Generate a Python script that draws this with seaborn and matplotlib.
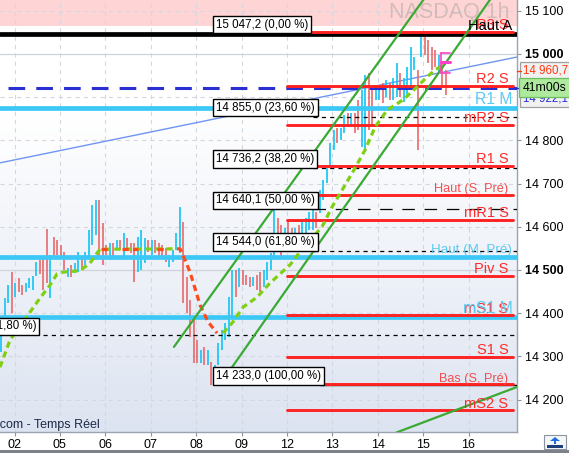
import numpy as np
import pandas as pd
import matplotlib
matplotlib.use("Agg")
import matplotlib.pyplot as plt
import matplotlib.transforms as mtransforms
import matplotlib.colors as mcolors
from matplotlib.patches import Rectangle, Polygon
import seaborn as sns

# ---------------- data ----------------
day_labels = ["02", "05", "06", "07", "08", "09", "12", "13", "14", "15", "16"]
bars_per_day = 12.97
first_day_pos = 3.86          # bar index where day "02" starts

bar_high = [14354, 14435, 14465, 14495, 14470, 14481, 14465, 14470, 14481, 14486,
            14518, 14523, 14530, 14595, 14535, 14576, 14569, 14558, 14542, 14505,
            14512, 14516, 14542, 14528, 14542, 14593, 14650, 14662, 14662, 14609,
            14558, 14562, 14562, 14569, 14569, 14586, 14574, 14562, 14562, 14576,
            14593, 14574, 14569, 14569, 14569, 14562, 14558, 14551, 14535, 14546,
            14586, 14646, 14611, 14484, 14430, 14389, 14338, 14315, 14322, 14315,
            14287, 14280, 14331, 14361, 14377, 14437, 14500, 14500, 14505, 14500,
            14488, 14484, 14484, 14488, 14495, 14500, 14518, 14539, 14650, 14620,
            14604, 14597, 14611, 14597, 14597, 14604, 14616, 14620, 14634, 14639,
            14634, 14685, 14708, 14738, 14794, 14824, 14829, 14829, 14859, 14863,
            14863, 14863, 14894, 14917, 14951, 14956, 14924, 14928, 14924, 14933,
            14940, 14933, 14944, 14979, 14956, 14944, 14970, 15016, 14993, 14963,
            15047, 15039, 15032, 15016, 15009, 14998, 14979, 14963]
bar_low = [14310, 14389, 14424, 14400, 14437, 14449, 14442, 14449, 14458, 14454,
           14486, 14491, 14454, 14470, 14435, 14528, 14535, 14528, 14500, 14484,
           14484, 14493, 14495, 14500, 14512, 14530, 14558, 14581, 14530, 14512,
           14535, 14523, 14530, 14546, 14546, 14530, 14546, 14539, 14472, 14495,
           14500, 14516, 14542, 14535, 14539, 14530, 14530, 14518, 14507, 14518,
           14546, 14539, 14424, 14400, 14345, 14285, 14285, 14285, 14280, 14280,
           14233, 14238, 14280, 14315, 14338, 14345, 14391, 14437, 14461, 14465,
           14465, 14461, 14463, 14454, 14449, 14461, 14477, 14500, 14530, 14546,
           14528, 14546, 14569, 14576, 14576, 14576, 14586, 14586, 14593, 14593,
           14597, 14632, 14662, 14701, 14738, 14778, 14794, 14801, 14817, 14831,
           14836, 14817, 14824, 14785, 14773, 14824, 14831, 14894, 14894, 14887,
           14900, 14894, 14894, 14900, 14900, 14889, 14900, 14924, 14963, 14778,
           14993, 14998, 14979, 14963, 14970, 14958, 14924, 14905]
bar_dir = ("UUUDUDDUUU" "UDDDUDDDDU" "DUUDUUUUDD" "DUDUDUDDDU" "UUDUDDDDUU"
           "UUDDDDDUDU" "DUUUUUUDUD" "DDUDDUUUUD" "DUDDUDUUUU" "DUUUUUDUUD"
           "UDDUUDDUUD" "UDUUDUUUUD" "UDDDDUDD")

fib_high = 15047.2
fib_low = 14233.0
fib_pcts = [0.0, 23.6, 38.2, 50.0, 61.8, 100.0]
fib_start = 60.6
ext_level = 14348.5
ext_label = "14 348,5 (61,80 %)"

piv_S_names = ["R3 S", "R2 S", "mR2 S", "R1 S", "Haut (S, Pré)", "mR1 S", "Piv S",
               "mS1 S", "S1 S", "Bas (S, Pré)", "mS2 S"]
piv_S_vals = [15052, 14926, 14836, 14741, 14674, 14616, 14487, 14395, 14299, 14235, 14175]
piv_M_names = ["R1 M", "Haut (M, Pré)", "mS1 M"]
piv_M_vals = [14875, 14530, 14391]
haut_A = 15047.2
prev_close = 14922.1
last_price = 14960.7
countdown = "41m00s"

st_g1_x = [-0.29, 2.57, 7.71, 11.14, 14.0, 16.0, 17.71, 21.71, 23.14, 25.43, 27.43, 28.29, 50.29]
st_g1_y = [14275, 14338, 14396, 14435, 14465, 14491, 14495, 14498, 14502, 14516, 14539, 14548, 14549]
st_r_x = [50.29, 51.14, 52.57, 54.0, 56.86, 59.14, 61.71]
st_r_y = [14549, 14549, 14523, 14495, 14419, 14380, 14354]
st_g2_x = [63.43, 66.29, 69.14, 73.14, 76.86, 82.57, 85.43, 91.71, 94.57, 97.43, 100.29,
           104.0, 106.86, 110.29, 114.86, 118.86, 121.71, 124.0, 126.29]
st_g2_y = [14354, 14380, 14414, 14437, 14470, 14512, 14542, 14600, 14646, 14685, 14724,
           14778, 14831, 14870, 14894, 14924, 14947, 14963, 14975]
st_red_flat = [(28.5, 31.0), (34.5, 39.0), (44.5, 46.5)]
st_flat_level = 14549

chan_upper_x, chan_upper_y = [49.4, 121.5], [14322, 15135]
chan_lower_x, chan_lower_y = [63.4, 140.5], [14245, 15135]
support_x, support_y = [113.0, 148.0], [14124, 14231]
blue_x, blue_y = [-0.3, 147.4], [14748, 14993]

proj_x = [125.7, 128.3]
proj_levels = [15002, 14981, 14956]

y_ticks = [14200, 14300, 14400, 14500, 14600, 14700, 14800, 15000, 15100]
bold_ticks = [14500, 15000]

n_bars = min(len(bar_high), len(bar_low), len(bar_dir))

# ---------------- style ----------------
sns.set_style("white")
plt.rcParams['font.family'] = ['Liberation Sans', 'DejaVu Sans']
plt.rcParams['lines.scale_dashes'] = False

W, H = 569, 453
fig = plt.figure(figsize=(W / 100, H / 100), dpi=100)
fig.patch.set_facecolor("white")
ax = fig.add_axes([0, 21 / H, 517 / W, 432 / H])
XMIN, XMAX, YMIN, YMAX = -0.29, 147.4, 14125, 15125
ax.set_xlim(XMIN, XMAX)
ax.set_ylim(YMIN, YMAX)

# background gradient
grad = np.linspace(0, 1, 256)[:, None]
top = np.array(mcolors.to_rgb("#ffffff"))
bot = np.array(mcolors.to_rgb("#dde4f1"))
t = np.clip(grad / 0.75, 0, 1)
img = bot[None, None, :] * (1 - t)[..., None] + top[None, None, :] * t[..., None]
img = np.repeat(img, 2, axis=1)
ax.imshow(img, extent=[XMIN, XMAX, YMIN, YMAX], origin="lower", aspect="auto", zorder=0)
bx = np.array(blue_x); by = np.array(blue_y)
ax.fill_between(bx, by, YMAX, color="white", alpha=0.55, zorder=0.3, lw=0)
ax.axhspan(15065, YMAX, color="#ffd4d4", zorder=0.5, lw=0)

# grid
day_pos = [first_day_pos + bars_per_day * k for k in range(len(day_labels))]
for xp in day_pos:
    ax.axvline(xp, color="#d2d7e0", lw=0.8, dashes=(3, 3), zorder=0.8)
for yv in [14200, 14300, 14400, 14600, 14700, 14800, 14900, 15100]:
    ax.axhline(yv, color="#d2d7e0", lw=0.8, dashes=(3, 3), zorder=0.8)
for yv in bold_ticks:
    ax.axhline(yv, color="#cfd3da", lw=0.9, zorder=0.8)

# watermark
ax.text(128.1, 15097, "NASDAQ 1h", fontsize=15.5, color="#b9a9a9", alpha=0.6,
        ha="center", va="center", zorder=0.9)

# blue trend line
sns.lineplot(x=blue_x, y=blue_y, ax=ax, color="#6f95f2", lw=1.0, zorder=1.5)

# full width cyan lines and black Haut A line
for v in piv_M_vals:
    ax.axhline(v, color="#3cc8f6", lw=3.4, zorder=3)
ax.axhline(haut_A, color="black", lw=3.4, zorder=3)
ax.plot([2.0, XMAX], [prev_close, prev_close], color="#2b2fd2", lw=2.2, dashes=(12, 8), zorder=3)

# pivot S lines (current week)
s_start = day_pos[6] - 0.1
s_end = XMAX - 1.2
for v in piv_S_vals:
    ax.plot([s_start, s_end], [v, v], color="#ff2222", lw=2.1, zorder=3.2)

# bars
df = pd.DataFrame({"i": np.arange(n_bars), "hi": bar_high[:n_bars], "lo": bar_low[:n_bars],
                   "dir": list(bar_dir[:n_bars])})
x_bar = df["i"].to_numpy() + 0.0
colors = np.where(df["dir"] == "U", "#12c3f4", "#e8696b")
ax.vlines(x_bar, df["lo"], df["hi"], colors=colors, lw=1.2, zorder=2.5)

# fib levels
fib_levels = [fib_high - p / 100 * (fib_high - fib_low) for p in fib_pcts]
box_end = fib_start + 28.6
for p, lv in zip(fib_pcts, fib_levels):
    txt = f"{lv:,.1f}".replace(",", " ").replace(".", ",") + " (" + f"{p:.2f}".replace(".", ",") + " %)"
    ax.annotate(txt, xy=(fib_start, lv), xytext=(2.2, 2.2), textcoords="offset points",
                ha="left", va="bottom", fontsize=8.3, color="black", zorder=6,
                bbox=dict(boxstyle="square,pad=0.25", fc="white", ec="black", lw=1.0))
    if p in (23.6, 38.2, 61.8):
        ax.plot([box_end, XMAX], [lv, lv], color="black", lw=0.9, dashes=(3, 3), zorder=3.1)
    elif p == 50.0:
        ax.plot([box_end, XMAX], [lv, lv], color="black", lw=0.9, dashes=(9, 7), zorder=3.1)
    elif p == 100.0:
        ax.plot([box_end + 2, XMAX], [lv, lv], color="black", lw=1.0, zorder=3.1)
ext = ax.annotate(ext_label, xy=(10.9, ext_level), xytext=(-2.2, 2.2), textcoords="offset points",
                  ha="right", va="bottom", fontsize=8.3, color="black", zorder=6,
                  bbox=dict(boxstyle="square,pad=0.25", fc="white", ec="black", lw=1.0))
ext.set_clip_on(True)
ax.plot([12.0, XMAX], [ext_level, ext_level], color="black", lw=0.9, dashes=(3, 3), zorder=3.1)

# supertrend
for xs, ys, col in [(st_g1_x, st_g1_y, "#7fcf12"), (st_r_x, st_r_y, "#ff4a1c"),
                    (st_g2_x, st_g2_y, "#7fcf12")]:
    sns.lineplot(x=xs, y=ys, ax=ax, color=col, lw=2.3, zorder=4, sort=False, estimator=None)
    ax.lines[-1].set_dashes((4.5, 3))
for a, b in st_red_flat:
    ax.plot([a, b], [st_flat_level, st_flat_level], color="#ff4a1c", lw=2.3, dashes=(4.5, 3), zorder=4.1)

# channel lines
for xs, ys in [(chan_upper_x, chan_upper_y), (chan_lower_x, chan_lower_y), (support_x, support_y)]:
    sns.lineplot(x=xs, y=ys, ax=ax, color="#3aaa35", lw=1.6, zorder=5)

# projection marks
ax.plot([proj_x[0], proj_x[0]], [proj_levels[0], proj_levels[-1]], color="#ff40c8", lw=1.2, zorder=5.5)
for k, lv in enumerate(proj_levels):
    ax.plot(proj_x, [lv, lv], color="#ff40c8", lw=2.2 if k == 1 else 1.2, zorder=5.5)

# pivot labels
lab_x_S = XMAX - 2.45
lab_x_M = XMAX - 1.35
for n, v in zip(piv_S_names, piv_S_vals):
    fs = 9.2 if "(" in n else 10.5
    col = "#f05050" if "(" in n else "#ff2a2a"
    ax.annotate(n, xy=(lab_x_S, v), xytext=(0, 2.0), textcoords="offset points",
                ha="right", va="baseline", fontsize=fs, color=col, zorder=7)
for n, v in zip(piv_M_names, piv_M_vals):
    fs = 9.6 if "(" in n else 11.3
    ax.annotate(n, xy=(lab_x_M, v), xytext=(0, 3.0), textcoords="offset points",
                ha="right", va="baseline", fontsize=fs, color="#5ccaf2", zorder=7)
ax.annotate("Haut A", xy=(lab_x_M, haut_A), xytext=(0, 2.5), textcoords="offset points",
            ha="right", va="baseline", fontsize=10.5, color="black", zorder=7.5)

# source text
ax.text(28.3, 14142, "ProRealTime.com - Temps Réel", ha="right", va="center",
        fontsize=9, color="#1d2b4a", zorder=7, clip_on=True)

# axes styling
for s in ["top", "left"]:
    ax.spines[s].set_visible(False)
for s in ["right", "bottom"]:
    ax.spines[s].set_color("#9aa3ae")
    ax.spines[s].set_linewidth(1.0)
ax.yaxis.tick_right()
ax.set_yticks(y_ticks)
ax.set_yticklabels([f"{v:,}".replace(",", " ") for v in y_ticks])
for lbl, v in zip(ax.get_yticklabels(), y_ticks):
    if v in bold_ticks:
        lbl.set_fontweight("bold")
ax.tick_params(axis="y", right=True, length=3, width=0.8, color="#8a939e", pad=3,
               labelsize=9, labelcolor="black")
ax.set_xticks(day_pos)
ax.set_xticklabels(day_labels)
ax.tick_params(axis="x", bottom=True, length=3, width=0.8, color="#8a939e", pad=2,
               labelsize=9, labelcolor="black")
ax.set_xlabel("")
ax.set_ylabel("")

# right side price labels
tr = mtransforms.blended_transform_factory(ax.transAxes, ax.transData)
xl = 1 + 6 / 517
ax.text(xl, 14897, "14 922,1", transform=tr, ha="left", va="center", fontsize=8.3,
        color="#2b2fd2", zorder=8, clip_on=False,
        bbox=dict(boxstyle="square,pad=0.22", fc="#f1f1f1", ec="#a0a0a0", lw=0.9))
ax.text(xl, prev_close, countdown, transform=tr, ha="left", va="center", fontsize=8.8,
        color="black", zorder=9, clip_on=False,
        bbox=dict(boxstyle="square,pad=0.3", fc="#aeea9e", ec="#6cbf5c", lw=0.9))
ax.text(xl, last_price, "14 960,7", transform=tr, ha="left", va="center", fontsize=8.3,
        color="#ff3a10", zorder=8, clip_on=False,
        bbox=dict(boxstyle="square,pad=0.22", fc="#f1f1f1", ec="#a0a0a0", lw=0.9))
ax.plot([1.0, 1 + 4 / 517], [last_price, last_price], transform=tr, color="#ff3a10", lw=1,
        clip_on=False, zorder=8)
ax.plot([1.0, 1 + 4 / 517], [prev_close, prev_close], transform=tr, color="#2b2fd2", lw=1,
        clip_on=False, zorder=8)

# bottom frame and icon
fig.add_artist(Rectangle((0, 0), 1, 3 / H, transform=fig.transFigure, fc="#7d8288", ec="none"))
fig.add_artist(Rectangle((544 / W, 4 / H), 22 / W, 14 / H, transform=fig.transFigure,
                         fc="#f4f6f8", ec="#8a939e", lw=0.8))
fig.add_artist(Polygon([[555 / W, 16 / H], [550 / W, 12 / H], [560 / W, 12 / H]],
                       closed=True, transform=fig.transFigure, fc="#1f6fd6", ec="none"))
fig.add_artist(Rectangle((554 / W, 9 / H), 2 / W, 4 / H, transform=fig.transFigure,
                         fc="#1f6fd6", ec="none"))
fig.add_artist(Rectangle((547 / W, 5.5 / H), 16 / W, 2.5 / H, transform=fig.transFigure,
                         fc="#1f3f7a", ec="none"))

fig.savefig("out.png", dpi=100)
